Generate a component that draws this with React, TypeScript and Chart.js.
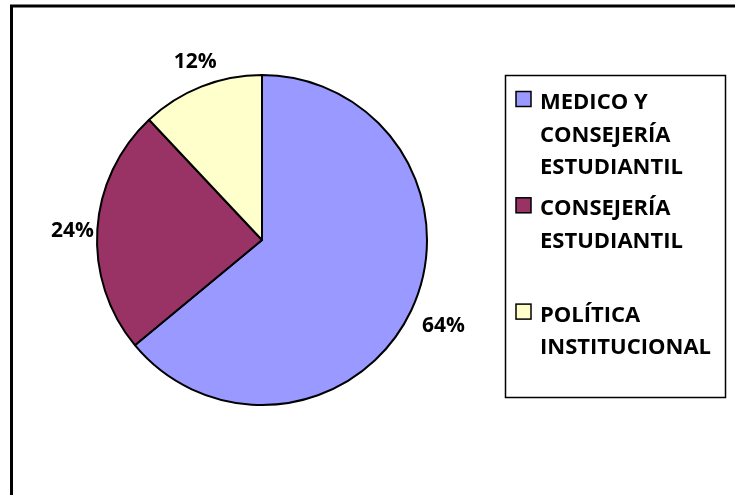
import React, { useEffect, useRef } from "react";
import { Chart, registerables } from "chart.js";

Chart.register(...registerables);

const categories = [
  "MEDICO Y CONSEJERÍA ESTUDIANTIL",
  "CONSEJERÍA ESTUDIANTIL",
  "POLÍTICA INSTITUCIONAL",
];
const percentValues = [64, 24, 12];
const sliceColors = ["#9999FF", "#993366", "#FFFFCC"];

const FONT_FAMILY = "'Open Sans', 'Noto Sans', sans-serif";

function wrapText(ctx: CanvasRenderingContext2D, text: string, maxW: number): string[] {
  const words = text.split(" ");
  const lines: string[] = [];
  let cur = "";
  for (const w of words) {
    const test = cur ? cur + " " + w : w;
    if (ctx.measureText(test).width > maxW && cur) {
      lines.push(cur);
      cur = w;
    } else {
      cur = test;
    }
  }
  if (cur) lines.push(cur);
  return lines;
}

const framePlugin = {
  id: "frame",
  afterDraw(chart: any) {
    const ctx = chart.ctx as CanvasRenderingContext2D;
    ctx.save();
    ctx.strokeStyle = "#000";
    ctx.lineWidth = 3;
    ctx.beginPath();
    ctx.moveTo(11.5, chart.height + 10);
    ctx.lineTo(11.5, 6);
    ctx.lineTo(chart.width + 10, 6);
    ctx.stroke();
    ctx.restore();
  },
};

const pieLabelPlugin = {
  id: "pieLabels",
  afterDatasetsDraw(chart: any) {
    const ctx = chart.ctx as CanvasRenderingContext2D;
    const meta = chart.getDatasetMeta(0);
    const data = chart.data.datasets[0].data as number[];
    const total = data.reduce((a, b) => a + b, 0);
    ctx.save();
    ctx.font = `bold 21px ${FONT_FAMILY}`;
    ctx.fillStyle = "#000";
    ctx.textAlign = "center";
    ctx.textBaseline = "middle";
    meta.data.forEach((arc: any, i: number) => {
      const { x, y, startAngle, endAngle, outerRadius } = arc.getProps(
        ["x", "y", "startAngle", "endAngle", "outerRadius"],
        true
      );
      const mid = (startAngle + endAngle) / 2;
      const d = outerRadius + 30;
      const lx = x + Math.cos(mid) * d + 5;
      const ly = y + Math.sin(mid) * d + 3;
      const pct = Math.round((data[i] / total) * 100);
      ctx.fillText(pct + "%", lx, ly);
    });
    ctx.restore();
  },
};

const boxLegendPlugin = {
  id: "boxLegend",
  afterDraw(chart: any) {
    const ctx = chart.ctx as CanvasRenderingContext2D;
    const labels = chart.data.labels as string[];
    const colors = chart.data.datasets[0].backgroundColor as string[];
    const left = 505.5;
    const top = 75.5;
    const w = 220;
    const h = 322;
    ctx.save();
    ctx.strokeStyle = "#000";
    ctx.lineWidth = 1.5;
    ctx.strokeRect(left, top, w, h);
    ctx.font = `bold 22px ${FONT_FAMILY}`;
    ctx.textAlign = "left";
    ctx.textBaseline = "alphabetic";
    const itemStep = 106.3;
    const lineStep = 32.5;
    labels.forEach((lab, i) => {
      const base = 109 + i * itemStep;
      const my = base - 10;
      ctx.fillStyle = colors[i];
      ctx.fillRect(516, my - 7.5, 15, 15);
      ctx.lineWidth = 1.5;
      ctx.strokeStyle = "#000";
      ctx.strokeRect(516, my - 7.5, 15, 15);
      ctx.fillStyle = "#000";
      const lines = wrapText(ctx, lab, 184);
      lines.forEach((ln, j) => {
        ctx.fillText(ln, 540, base + j * lineStep);
      });
    });
    ctx.restore();
  },
};

export default function App() {
  const ref = useRef<HTMLCanvasElement>(null);
  useEffect(() => {
    if (!ref.current) return;
    const chart = new Chart(ref.current, {
      type: "pie",
      data: {
        labels: categories,
        datasets: [
          {
            data: percentValues,
            backgroundColor: sliceColors,
            borderColor: "#000",
            borderWidth: 2,
          },
        ],
      },
      options: {
        responsive: false,
        animation: false,
        layout: { padding: { left: 96, right: 307, top: 74, bottom: 89 } },
        plugins: {
          legend: { display: false },
          tooltip: { enabled: false },
        },
      },
      plugins: [pieLabelPlugin, boxLegendPlugin, framePlugin],
    });
    return () => chart.destroy();
  }, []);
  return (
    <div style={{ position: "absolute", left: 0, top: 0, width: 735, height: 495, background: "#fff" }}>
      <canvas ref={ref} width={735} height={495} />
    </div>
  );
}
